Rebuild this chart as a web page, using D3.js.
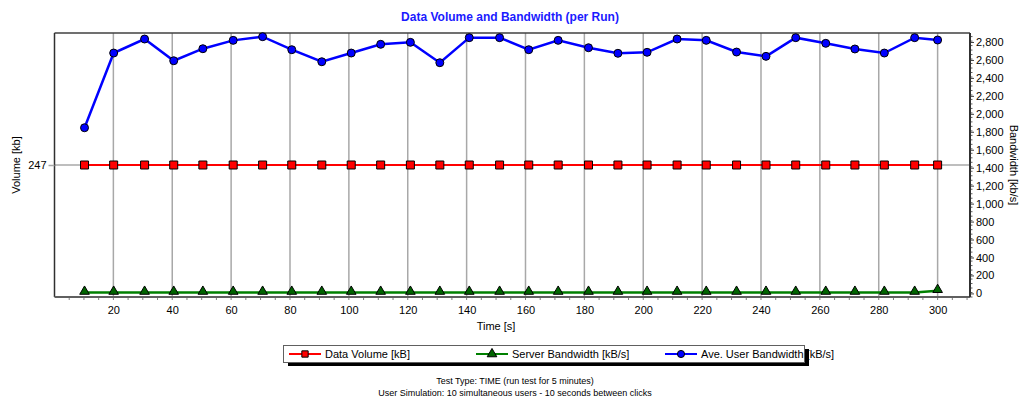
<!DOCTYPE html>
<html lang="en">
<head>
    <meta charset="utf-8">
    <script type="text/javascript" src="https://cdn.jsdelivr.net/npm/d3@7"></script>
    <style>
        body { margin: 0; background: #fff; }
        text { font-family: "Liberation Sans", Arial, sans-serif; }
    </style>
</head>
<body>
<script type="text/javascript">

    // run times [s]
    let times = [10.2, 20.1, 30.6, 40.5, 50.4, 60.7, 70.7, 80.6, 90.8, 100.8,
        110.8, 120.9, 130.9, 140.9, 151.2, 161.1, 171.1, 181.4, 191.4, 201.3,
        211.5, 221.4, 231.7, 241.7, 251.8, 262, 271.9, 281.9, 292.2, 300];

    // Data Volume [kB]
    let volume = [247, 247, 247, 247, 247, 247, 247, 247, 247, 247,
        247, 247, 247, 247, 247, 247, 247, 247, 247, 247,
        247, 247, 247, 247, 247, 247, 247, 247, 247, 247];

    // Server Bandwidth [kB/s]
    let serverBw = [10, 10, 10, 10, 10, 10, 10, 10, 10, 10,
        10, 10, 10, 10, 10, 10, 10, 10, 10, 10,
        10, 10, 10, 10, 10, 10, 10, 10, 10, 30];

    // Ave. User Bandwidth [kB/s]
    let userBw = [1845, 2677, 2833, 2591, 2725, 2818, 2859, 2714, 2580, 2677,
        2774, 2796, 2569, 2848, 2848, 2714, 2818, 2736, 2674, 2685,
        2833, 2818, 2688, 2640, 2848, 2785, 2722, 2677, 2848, 2822];

    let xTicks = [20, 40, 60, 80, 100, 120, 140, 160, 180, 200, 220, 240, 260, 280, 300];
    let bwTicks = [0, 200, 400, 600, 800, 1000, 1200, 1400, 1600, 1800, 2000, 2200, 2400, 2600, 2800];
    let volTicks = [247];

    let w = 1019;
    let h = 401;
    let pLeft = 54.5, pRight = 970, pTop = 33, pBottom = 297;

    let svg = d3.select("body")
        .append("svg")
        .attr("width", w)
        .attr("height", h);

    let x = d3.scaleLinear().domain([0, 311]).range([pLeft, pRight]);
    let yVol = d3.scaleLinear().domain([0, 494]).range([pBottom, pTop]);
    let yBw = d3.scaleLinear().domain([-40, 2900]).range([pBottom, pTop]);

    //Title
    svg.append("text")
        .attr("x", 510)
        .attr("y", 21)
        .attr("text-anchor", "middle")
        .attr("font-size", 12)
        .attr("font-weight", "bold")
        .attr("fill", "#1a1aff")
        .text("Data Volume and Bandwidth (per Run)");

    //Vertical grid
    svg.append("g")
        .selectAll("line")
        .data(xTicks)
        .enter()
        .append("line")
        .attr("x1", d => x(d))
        .attr("x2", d => x(d))
        .attr("y1", pTop)
        .attr("y2", pBottom)
        .attr("stroke", "#a8a8a8")
        .attr("stroke-width", 1.5);

    //Horizontal grid at 247
    svg.append("g")
        .selectAll("line")
        .data(volTicks)
        .enter()
        .append("line")
        .attr("x1", pLeft)
        .attr("x2", pRight)
        .attr("y1", d => yVol(d))
        .attr("y2", d => yVol(d))
        .attr("stroke", "#a8a8a8")
        .attr("stroke-width", 1.5);

    //Frame
    svg.append("line").attr("x1", pLeft).attr("x2", pRight).attr("y1", pTop).attr("y2", pTop)
        .attr("stroke", "#404040").attr("stroke-width", 1.5);
    svg.append("line").attr("x1", pLeft).attr("x2", pLeft).attr("y1", pTop).attr("y2", pBottom)
        .attr("stroke", "#303030").attr("stroke-width", 1.5);

    //X axis
    let xAxis = d3.axisBottom(x)
        .tickValues(xTicks)
        .tickSize(0)
        .tickPadding(9)
        .tickFormat(d3.format("d"));
    let gx = svg.append("g")
        .attr("transform", `translate(0,${pBottom})`)
        .call(xAxis);
    gx.select(".domain").remove();
    gx.selectAll("text").attr("font-size", 11).attr("fill", "#000").attr("font-family", "Liberation Sans, Arial");

    //x minor ticks
    svg.append("g")
        .selectAll("line")
        .data(d3.range(5, 311, 5))
        .enter()
        .append("line")
        .attr("x1", d => x(d))
        .attr("x2", d => x(d))
        .attr("y1", pBottom)
        .attr("y2", pBottom + 3)
        .attr("stroke", "#808080")
        .attr("stroke-width", 1);

    svg.append("line").attr("x1", pLeft).attr("x2", pRight).attr("y1", pBottom).attr("y2", pBottom)
        .attr("stroke", "#606060").attr("stroke-width", 2);

    svg.append("text")
        .attr("x", 496)
        .attr("y", 330)
        .attr("text-anchor", "middle")
        .attr("font-size", 11)
        .text("Time [s]");

    //Left axis
    let volAxis = d3.axisLeft(yVol)
        .tickValues(volTicks)
        .tickSize(6)
        .tickPadding(2);
    let gv = svg.append("g")
        .attr("transform", `translate(${pLeft},0)`)
        .call(volAxis);
    gv.select(".domain").remove();
    gv.selectAll("line").attr("stroke", "#a8a8a8").attr("stroke-width", 1.5);
    gv.selectAll("text").attr("font-size", 11).attr("fill", "#000").attr("font-family", "Liberation Sans, Arial");

    svg.append("text")
        .attr("transform", "translate(20,165) rotate(-90)")
        .attr("text-anchor", "middle")
        .attr("font-size", 11)
        .text("Volume [kb]");

    //Right axis
    let bwAxis = d3.axisRight(yBw)
        .tickValues(bwTicks)
        .tickSize(4)
        .tickPadding(2)
        .tickFormat(d3.format(","));
    let gb = svg.append("g")
        .attr("transform", `translate(${pRight},0)`)
        .call(bwAxis);
    gb.select(".domain").remove();
    gb.selectAll("line").attr("stroke", "#404040");
    gb.selectAll("text").attr("font-size", 11).attr("fill", "#000").attr("font-family", "Liberation Sans, Arial");

    svg.append("g")
        .selectAll("line")
        .data(d3.range(-40, 2900, 50))
        .enter()
        .append("line")
        .attr("x1", pRight)
        .attr("x2", pRight + 2.5)
        .attr("y1", d => yBw(d))
        .attr("y2", d => yBw(d))
        .attr("stroke", "#606060")
        .attr("stroke-width", 1);

    svg.append("line").attr("x1", pRight).attr("x2", pRight).attr("y1", pTop).attr("y2", pBottom)
        .attr("stroke", "#303030").attr("stroke-width", 2);

    svg.append("text")
        .attr("transform", "translate(1010,165) rotate(90)")
        .attr("text-anchor", "middle")
        .attr("font-size", 11)
        .text("Bandwidth [kb/s]");

    //Series
    let volLine = d3.line().x((d, i) => x(times[i])).y(d => yVol(d));
    let bwLine = d3.line().x((d, i) => x(times[i])).y(d => yBw(d));

    svg.append("path")
        .attr("d", volLine(volume))
        .attr("fill", "none")
        .attr("stroke", "#ff0000")
        .attr("stroke-width", 2);

    svg.append("path")
        .attr("d", bwLine(serverBw))
        .attr("fill", "none")
        .attr("stroke", "#008000")
        .attr("stroke-width", 2.5);

    svg.append("path")
        .attr("d", bwLine(userBw))
        .attr("fill", "none")
        .attr("stroke", "#0000ff")
        .attr("stroke-width", 2.5);

    let square = d3.symbol().type(d3.symbolSquare).size(64);
    let triangle = d3.symbol().type(d3.symbolTriangle).size(40);
    let circle = d3.symbol().type(d3.symbolCircle).size(50);

    svg.append("g")
        .selectAll("path")
        .data(volume)
        .enter()
        .append("path")
        .attr("d", square)
        .attr("transform", (d, i) => `translate(${x(times[i])},${yVol(d)})`)
        .attr("fill", "#ff0000")
        .attr("stroke", "#000")
        .attr("stroke-width", 1);

    svg.append("g")
        .selectAll("path")
        .data(serverBw)
        .enter()
        .append("path")
        .attr("d", triangle)
        .attr("transform", (d, i) => `translate(${x(times[i])},${yBw(d) - 1})`)
        .attr("fill", "#006400")
        .attr("stroke", "#000")
        .attr("stroke-width", 1);

    svg.append("g")
        .selectAll("path")
        .data(userBw)
        .enter()
        .append("path")
        .attr("d", circle)
        .attr("transform", (d, i) => `translate(${x(times[i])},${yBw(d)})`)
        .attr("fill", "#0000ff")
        .attr("stroke", "#000")
        .attr("stroke-width", 1);

    //Legend
    let legend = [
        {name: "Data Volume [kB]", color: "#ff0000", fill: "#ff0000", sym: d3.symbolSquare, x: 289},
        {name: "Server Bandwidth [kB/s]", color: "#008000", fill: "#006400", sym: d3.symbolTriangle, x: 476},
        {name: "Ave. User Bandwidth [kB/s]", color: "#0000ff", fill: "#0000ff", sym: d3.symbolCircle, x: 665}
    ];
    svg.append("rect").attr("x", 288).attr("y", 349).attr("width", 521).attr("height", 17).attr("fill", "#000");
    svg.append("rect").attr("x", 283.5).attr("y", 345.5).attr("width", 521).attr("height", 17)
        .attr("fill", "#fff").attr("stroke", "#606060").attr("stroke-width", 1);

    let lg = svg.append("g")
        .selectAll("g")
        .data(legend)
        .enter()
        .append("g")
        .attr("transform", d => `translate(${d.x},354)`);
    lg.append("line").attr("x1", 0).attr("x2", 32).attr("stroke", d => d.color).attr("stroke-width", 2);
    lg.append("path").attr("d", d => d3.symbol().type(d.sym).size(40)())
        .attr("transform", "translate(16,0)")
        .attr("fill", d => d.fill).attr("stroke", "#000").attr("stroke-width", 1);
    lg.append("text").attr("x", 36).attr("y", 4).attr("font-size", 11).text(d => d.name);

    //Notes
    svg.append("text").attr("x", 515).attr("y", 384).attr("text-anchor", "middle").attr("font-size", 9)
        .text("Test Type: TIME (run test for 5 minutes)");
    svg.append("text").attr("x", 515).attr("y", 396).attr("text-anchor", "middle").attr("font-size", 9)
        .text("User Simulation: 10 simultaneous users - 10 seconds between clicks");

</script>
</body>
</html>
